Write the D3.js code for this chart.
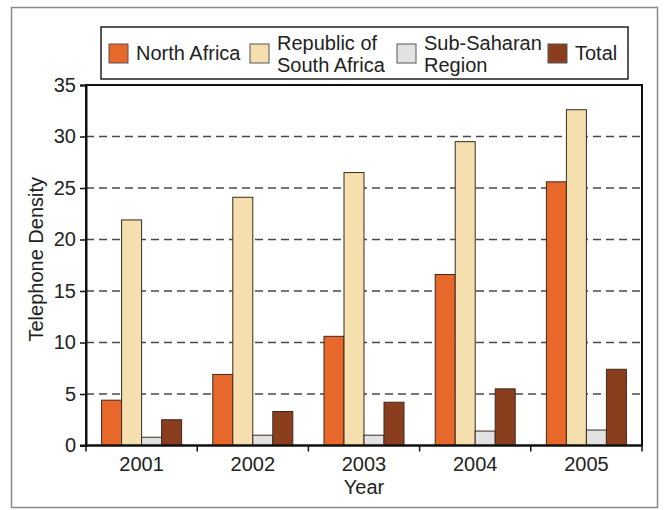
<!DOCTYPE html>
<html>
<head>
<meta charset="utf-8">
<script src="https://cdn.jsdelivr.net/npm/d3@7"></script>
<style>
  html, body { margin: 0; padding: 0; background: #fff; }
  svg { display: block; font-family: "Liberation Sans", Arial, sans-serif; }
</style>
</head>
<body>
<svg id="chart" width="664" height="510"></svg>
<script>
// Telephone density by region, 2001–2005
const years = ["2001", "2002", "2003", "2004", "2005"];
const seriesNames = ["North Africa", "Republic of South Africa", "Sub-Saharan Region", "Total"];
const legendLines = [["North Africa"], ["Republic of", "South Africa"], ["Sub-Saharan", "Region"], ["Total"]];
const northAfrica = [4.4, 6.9, 10.6, 16.6, 25.6];
const southAfrica = [21.9, 24.1, 26.5, 29.5, 32.6];
const subSaharan = [0.8, 1.0, 1.0, 1.4, 1.5];
const total = [2.5, 3.3, 4.2, 5.5, 7.4];
const yTicks = [0, 5, 10, 15, 20, 25, 30, 35];

const seriesValues = [northAfrica, southAfrica, subSaharan, total];
const colors = ["#e8672a", "#f6dfae", "#e2e2e2", "#8a3e1e"];

const svg = d3.select("#chart");
const plot = { left: 86, right: 642, top: 85, bottom: 445.5 };
const fontSize = 20;

// outer frame
svg.append("rect")
  .attr("x", 11.5).attr("y", 7.5).attr("width", 646).attr("height", 500)
  .attr("fill", "#fff").attr("stroke", "#8a8a8a").attr("stroke-width", 1.5);

const x = d3.scaleBand().domain(years).range([plot.left, plot.right]).padding(0);
const xInner = d3.scaleBand().domain(seriesNames).range([0, x.bandwidth()])
  .paddingInner(0).paddingOuter(0.78);
const y = d3.scaleLinear().domain([0, 35]).range([plot.bottom, plot.top]);

// dashed gridlines
svg.append("g")
  .selectAll("line")
  .data(yTicks.filter(t => t > 0 && t < 35))
  .join("line")
  .attr("x1", plot.left).attr("x2", plot.right)
  .attr("y1", d => y(d)).attr("y2", d => y(d))
  .attr("stroke", "#4a4a4a").attr("stroke-width", 1.6)
  .attr("stroke-dasharray", "8,5");

// bars
const rows = years.map((yr, i) => ({ year: yr, values: seriesNames.map((s, j) => ({ key: s, idx: j, value: seriesValues[j][i] })) }));
svg.append("g")
  .selectAll("g")
  .data(rows)
  .join("g")
  .attr("transform", d => `translate(${x(d.year)},0)`)
  .selectAll("rect")
  .data(d => d.values)
  .join("rect")
  .attr("x", d => xInner(d.key))
  .attr("width", xInner.bandwidth())
  .attr("y", d => y(d.value))
  .attr("height", d => y(0) - y(d.value))
  .attr("fill", d => colors[d.idx])
  .attr("stroke", "#3b2a1e").attr("stroke-width", 1);

// plot frame
svg.append("rect")
  .attr("x", plot.left).attr("y", plot.top)
  .attr("width", plot.right - plot.left).attr("height", plot.bottom - plot.top)
  .attr("fill", "none").attr("stroke", "#111").attr("stroke-width", 2);

// y axis
const yAxis = svg.append("g")
  .attr("transform", `translate(${plot.left},0)`)
  .call(d3.axisLeft(y).tickValues(yTicks).tickSize(6).tickPadding(4));
yAxis.select(".domain").attr("stroke", "#111").attr("stroke-width", 2);
yAxis.selectAll(".tick line").attr("stroke", "#111").attr("stroke-width", 1.5);
yAxis.selectAll(".tick text").attr("font-size", fontSize).attr("fill", "#222")
  .attr("font-family", "Liberation Sans, Arial, sans-serif");

// x axis: ticks at band boundaries, labels centred in bands
const xAxisG = svg.append("g").attr("transform", `translate(0,${plot.bottom})`);
xAxisG.append("line").attr("x1", plot.left - 6).attr("x2", plot.right)
  .attr("stroke", "#111").attr("stroke-width", 2);
const bounds = years.map(d => x(d)).concat([plot.right]);
xAxisG.selectAll("line.tk").data(bounds).join("line").attr("class", "tk")
  .attr("x1", d => d).attr("x2", d => d).attr("y1", 0).attr("y2", 6)
  .attr("stroke", "#111").attr("stroke-width", 1.5);
xAxisG.selectAll("text").data(years).join("text")
  .attr("x", d => x(d) + x.bandwidth() / 2).attr("y", 25)
  .attr("text-anchor", "middle").attr("font-size", fontSize).attr("fill", "#222")
  .text(d => d);

// axis titles
svg.append("text").attr("x", (plot.left + plot.right) / 2).attr("y", 494)
  .attr("text-anchor", "middle").attr("font-size", fontSize).attr("fill", "#222").text("Year");
svg.append("text")
  .attr("transform", `translate(43,${(plot.top + plot.bottom) / 2 - 6}) rotate(-90)`)
  .attr("text-anchor", "middle").attr("font-size", fontSize).attr("fill", "#222").text("Telephone Density");

// legend
const legend = svg.append("g");
legend.append("rect").attr("x", 101).attr("y", 27).attr("width", 527).attr("height", 52)
  .attr("fill", "#fff").attr("stroke", "#222").attr("stroke-width", 1.5);
const legendX = [109, 250, 397, 548];
const items = legend.selectAll("g.item").data(seriesNames).join("g").attr("class", "item")
  .attr("transform", (d, i) => `translate(${legendX[i]},0)`);
items.append("rect").attr("x", 0).attr("y", 44).attr("width", 19).attr("height", 19)
  .attr("fill", (d, i) => colors[i]).attr("stroke", "#555").attr("stroke-width", 1);
items.each(function (d, i) {
  const lines = legendLines[i];
  const t = d3.select(this).append("text").attr("font-size", fontSize).attr("fill", "#222");
  const y0 = lines.length === 1 ? 60 : 50;
  lines.forEach((ln, k) => {
    t.append("tspan").attr("x", 27).attr("y", y0 + k * 22).text(ln);
  });
});
</script>
</body>
</html>
